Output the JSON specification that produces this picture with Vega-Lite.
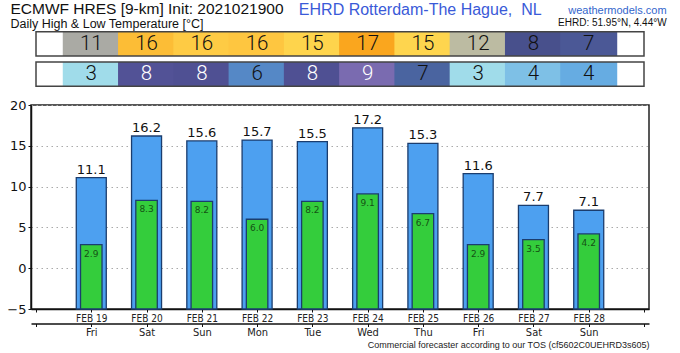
{
  "$schema": "https://vega.github.io/schema/vega-lite/v6.json",
  "width": 618,
  "height": 204,
  "padding": {"left": 31, "top": 105, "right": 31, "bottom": 44},
  "autosize": {"type": "none"},
  "background": "white",
  "config": {
    "view": {"stroke": "#222", "strokeWidth": 1.5},
    "font": "DejaVu Sans"
  },
  "datasets": {
    "days": [
      {"date": "2021-02-19", "hi": 11.1, "lo": 2.9, "hiR": 11, "loR": 3},
      {"date": "2021-02-20", "hi": 16.2, "lo": 8.3, "hiR": 16, "loR": 8},
      {"date": "2021-02-21", "hi": 15.6, "lo": 8.2, "hiR": 16, "loR": 8},
      {"date": "2021-02-22", "hi": 15.7, "lo": 6.0, "hiR": 16, "loR": 6},
      {"date": "2021-02-23", "hi": 15.5, "lo": 8.2, "hiR": 15, "loR": 8},
      {"date": "2021-02-24", "hi": 17.2, "lo": 9.1, "hiR": 17, "loR": 9},
      {"date": "2021-02-25", "hi": 15.3, "lo": 6.7, "hiR": 15, "loR": 7},
      {"date": "2021-02-26", "hi": 11.6, "lo": 2.9, "hiR": 12, "loR": 3},
      {"date": "2021-02-27", "hi": 7.7, "lo": 3.5, "hiR": 8, "loR": 4},
      {"date": "2021-02-28", "hi": 7.1, "lo": 4.2, "hiR": 7, "loR": 4}
    ]
  },
  "data": {"name": "days"},
  "layer": [
    {
      "layer": [
        {
          "mark": {"type": "bar", "width": 30, "fill": "#4da0f0", "stroke": "#1b3d6e", "strokeWidth": 1.3},
          "encoding": {
            "x": {
              "field": "date", "type": "temporal",
              "scale": {"type": "utc", "domain": [{"year": 2021, "month": 2, "date": 18, "utc": true}, {"year": 2021, "month": 3, "date": 1, "utc": true}]},
              "axis": {
                "orient": "bottom", "title": null, "grid": false,
                "tickCount": {"interval": "day", "step": 1},
                "labelExpr": "datum.index == 0 || datum.index == 1 ? '' : upper(utcFormat(datum.value, '%b %d'))",
                "labelFlush": false, "labelOverlap": false,
                "tickSize": 3, "tickColor": "#111", "labelPadding": 1,
                "labelFont": "DejaVu Sans Condensed", "labelFontSize": 10, "labelColor": "#222",
                "domainColor": "#111", "domainWidth": 1.5
              }
            },
            "y": {
              "field": "hi", "type": "quantitative",
              "scale": {"domain": [-5, 20], "nice": false, "zero": false},
              "axis": {
                "title": null, "values": [-5, 0, 5, 10, 15, 20],
                "grid": true, "gridColor": "#aaaaaa", "gridDash": [1.5, 3.5], "gridWidth": 1.2,
                "tickSize": 3, "tickColor": "#111", "labelPadding": 2,
                "labelFont": "DejaVu Sans", "labelFontSize": 13, "labelColor": "#111",
                "domainColor": "#111", "domainWidth": 1.5
              }
            },
            "y2": {"datum": -5}
          }
        },
        {
          "mark": {"type": "bar", "width": 21.5, "fill": "#34cd3c", "stroke": "#1b3d6e", "strokeWidth": 1.3},
          "encoding": {
            "x": {"field": "date", "type": "temporal", "scale": {"type": "utc", "domain": [{"year": 2021, "month": 2, "date": 18, "utc": true}, {"year": 2021, "month": 3, "date": 1, "utc": true}]}},
            "y": {"field": "lo", "type": "quantitative", "scale": {"domain": [-5, 20], "nice": false, "zero": false}},
            "y2": {"datum": -5}
          }
        },
        {
          "mark": {"type": "text", "baseline": "bottom", "dy": -1, "fontSize": 13, "font": "DejaVu Sans", "color": "#111"},
          "encoding": {
            "x": {"field": "date", "type": "temporal", "scale": {"type": "utc", "domain": [{"year": 2021, "month": 2, "date": 18, "utc": true}, {"year": 2021, "month": 3, "date": 1, "utc": true}]}},
            "y": {"field": "hi", "type": "quantitative", "scale": {"domain": [-5, 20], "nice": false, "zero": false}},
            "text": {"field": "hi", "type": "quantitative", "format": ".1f"}
          }
        },
        {
          "mark": {"type": "text", "baseline": "middle", "dy": 9, "fontSize": 9, "font": "DejaVu Sans", "color": "#145214"},
          "encoding": {
            "x": {"field": "date", "type": "temporal", "scale": {"type": "utc", "domain": [{"year": 2021, "month": 2, "date": 18, "utc": true}, {"year": 2021, "month": 3, "date": 1, "utc": true}]}},
            "y": {"field": "lo", "type": "quantitative", "scale": {"domain": [-5, 20], "nice": false, "zero": false}},
            "text": {"field": "lo", "type": "quantitative", "format": ".1f"}
          }
        },
        {
          "data": {"values": [{"t": "ECMWF HRES [9-km] Init: 2021021900"}]},
          "mark": {"type": "text", "align": "left", "baseline": "middle", "font": "Liberation Sans", "fontSize": 15.5, "color": "#111"},
          "encoding": {
            "x": {"datum": {"year": 2021, "month": 2, "date": 17, "hours": 12, "minutes": 54, "utc": true}, "type": "temporal", "scale": {"type": "utc", "domain": [{"year": 2021, "month": 2, "date": 18, "utc": true}, {"year": 2021, "month": 3, "date": 1, "utc": true}]}},
            "y": {"datum": 31.79, "type": "quantitative", "scale": {"domain": [-5, 20], "nice": false, "zero": false}},
            "text": {"field": "t"}
          }
        },
        {
          "data": {"values": [{"t": "Daily High & Low Temperature [°C]"}]},
          "mark": {"type": "text", "align": "left", "baseline": "middle", "font": "Liberation Sans", "fontSize": 12.5, "color": "#111"},
          "encoding": {
            "x": {"datum": {"year": 2021, "month": 2, "date": 17, "hours": 12, "minutes": 54, "utc": true}, "type": "temporal", "scale": {"type": "utc", "domain": [{"year": 2021, "month": 2, "date": 18, "utc": true}, {"year": 2021, "month": 3, "date": 1, "utc": true}]}},
            "y": {"datum": 29.89, "type": "quantitative", "scale": {"domain": [-5, 20], "nice": false, "zero": false}},
            "text": {"field": "t"}
          }
        },
        {
          "data": {"values": [{"t": "EHRD Rotterdam-The Hague, \u00a0NL"}]},
          "mark": {"type": "text", "align": "center", "baseline": "middle", "font": "Liberation Sans", "fontSize": 16, "color": "#3a5ad8"},
          "encoding": {
            "x": {"datum": {"year": 2021, "month": 2, "date": 24, "hours": 22, "minutes": 50, "utc": true}, "type": "temporal", "scale": {"type": "utc", "domain": [{"year": 2021, "month": 2, "date": 18, "utc": true}, {"year": 2021, "month": 3, "date": 1, "utc": true}]}},
            "y": {"datum": 31.7, "type": "quantitative", "scale": {"domain": [-5, 20], "nice": false, "zero": false}},
            "text": {"field": "t"}
          }
        },
        {
          "data": {"values": [{"t": "weathermodels.com"}]},
          "mark": {"type": "text", "align": "right", "baseline": "middle", "font": "Liberation Sans", "fontSize": 11, "color": "#3366cc"},
          "encoding": {
            "x": {"datum": {"year": 2021, "month": 3, "date": 1, "hours": 9, "minutes": 50, "utc": true}, "type": "temporal", "scale": {"type": "utc", "domain": [{"year": 2021, "month": 2, "date": 18, "utc": true}, {"year": 2021, "month": 3, "date": 1, "utc": true}]}},
            "y": {"datum": 31.58, "type": "quantitative", "scale": {"domain": [-5, 20], "nice": false, "zero": false}},
            "text": {"field": "t"}
          }
        },
        {
          "data": {"values": [{"t": "EHRD: 51.95°N, 4.44°W"}]},
          "mark": {"type": "text", "align": "right", "baseline": "middle", "font": "Liberation Sans", "fontSize": 10, "color": "#111"},
          "encoding": {
            "x": {"datum": {"year": 2021, "month": 3, "date": 1, "hours": 9, "minutes": 50, "utc": true}, "type": "temporal", "scale": {"type": "utc", "domain": [{"year": 2021, "month": 2, "date": 18, "utc": true}, {"year": 2021, "month": 3, "date": 1, "utc": true}]}},
            "y": {"datum": 29.99, "type": "quantitative", "scale": {"domain": [-5, 20], "nice": false, "zero": false}},
            "text": {"field": "t"}
          }
        }
      ]
    },
    {
      "layer": [
        {
          "mark": {"type": "tick", "thickness": 57, "size": 24.3, "opacity": 1},
          "encoding": {
            "x": {
              "field": "date", "type": "temporal",
              "scale": {"type": "utc", "domain": [{"year": 2021, "month": 2, "date": 18, "utc": true}, {"year": 2021, "month": 3, "date": 1, "utc": true}]},
              "axis": {
                "orient": "bottom", "offset": 14.5, "grid": false,
                "tickCount": {"interval": "day", "step": 1},
                "labelExpr": "datum.index == 0 || datum.index == 1 ? '' : utcFormat(datum.value, '%a')",
                "labelFlush": false, "labelOverlap": false,
                "tickSize": 3, "tickColor": "#111", "labelPadding": 0,
                "labelFont": "DejaVu Sans Condensed", "labelFontSize": 11, "labelColor": "#222",
                "domainColor": "#111", "domainWidth": 1.5,
                "title": "Commercial forecaster according to our TOS (cf5602C0UEHRD3s605)",
                "titleAnchor": "end", "titleFont": "Liberation Sans", "titleFontSize": 9,
                "titleFontWeight": "normal", "titleColor": "#222", "titlePadding": 3
              }
            },
            "y": {"datum": "high", "type": "nominal", "scale": {"type": "band", "domain": ["high", "low"], "range": [-73.3, -18.7], "paddingInner": 0.2, "paddingOuter": 0}, "axis": null},
            "color": {
              "field": "hi", "type": "quantitative", "legend": null,
              "scale": {
                "domain": [2.9, 3.5, 4.2, 6.0, 6.7, 7.1, 7.7, 8.25, 9.1, 11.1, 11.6, 15.3, 15.5, 15.6, 15.7, 16.2, 17.2],
                "range": ["#a0dcea", "#7ec0e6", "#66ace2", "#5588c6", "#4a64a0", "#4b5896", "#48508c", "#505094", "#7a6bb0", "#aaaaa4", "#bcbba2", "#fed54e", "#fed44c", "#fecb44", "#fec640", "#fcbd36", "#faa61e"],
                "interpolate": "rgb"
              }
            }
          }
        },
        {
          "mark": {"type": "tick", "thickness": 57, "size": 24.3, "opacity": 1},
          "encoding": {
            "x": {"field": "date", "type": "temporal", "scale": {"type": "utc", "domain": [{"year": 2021, "month": 2, "date": 18, "utc": true}, {"year": 2021, "month": 3, "date": 1, "utc": true}]}},
            "y": {"datum": "low", "type": "nominal", "scale": {"type": "band", "domain": ["high", "low"], "range": [-73.3, -18.7], "paddingInner": 0.2, "paddingOuter": 0}, "axis": null},
            "color": {
              "field": "lo", "type": "quantitative", "legend": null,
              "scale": {
                "domain": [2.9, 3.5, 4.2, 6.0, 6.7, 7.1, 7.7, 8.25, 9.1, 11.1, 11.6, 15.3, 15.5, 15.6, 15.7, 16.2, 17.2],
                "range": ["#a0dcea", "#7ec0e6", "#66ace2", "#5588c6", "#4a64a0", "#4b5896", "#48508c", "#505094", "#7a6bb0", "#aaaaa4", "#bcbba2", "#fed54e", "#fed44c", "#fecb44", "#fec640", "#fcbd36", "#faa61e"],
                "interpolate": "rgb"
              }
            }
          }
        },
        {
          "mark": {"type": "text", "baseline": "middle", "font": "Roboto", "fontSize": 20.5, "fontWeight": 300, "color": "#111"},
          "encoding": {
            "x": {"field": "date", "type": "temporal", "scale": {"type": "utc", "domain": [{"year": 2021, "month": 2, "date": 18, "utc": true}, {"year": 2021, "month": 3, "date": 1, "utc": true}]}},
            "y": {"datum": "high", "type": "nominal", "scale": {"type": "band", "domain": ["high", "low"], "range": [-73.3, -18.7], "paddingInner": 0.2, "paddingOuter": 0}, "axis": null},
            "text": {"field": "hiR", "type": "quantitative"}
          }
        },
        {
          "mark": {"type": "text", "baseline": "middle", "font": "Roboto", "fontSize": 20.5, "fontWeight": 300},
          "encoding": {
            "x": {"field": "date", "type": "temporal", "scale": {"type": "utc", "domain": [{"year": 2021, "month": 2, "date": 18, "utc": true}, {"year": 2021, "month": 3, "date": 1, "utc": true}]}},
            "y": {"datum": "low", "type": "nominal", "scale": {"type": "band", "domain": ["high", "low"], "range": [-73.3, -18.7], "paddingInner": 0.2, "paddingOuter": 0}, "axis": null},
            "text": {"field": "loR", "type": "quantitative"},
            "color": {"condition": {"test": "datum.lo >= 7.5", "value": "#ffffff"}, "value": "#111111"}
          }
        },
        {
          "data": {"values": [{"row": "high"}, {"row": "low"}]},
          "mark": {"type": "rect", "filled": false, "stroke": "#444", "strokeWidth": 1.5},
          "encoding": {
            "x": {"datum": {"year": 2021, "month": 2, "date": 18, "utc": true}, "type": "temporal", "scale": {"type": "utc", "domain": [{"year": 2021, "month": 2, "date": 18, "utc": true}, {"year": 2021, "month": 3, "date": 1, "utc": true}]}},
            "x2": {"datum": {"year": 2021, "month": 3, "date": 1, "utc": true}},
            "y": {"field": "row", "type": "nominal", "scale": {"type": "band", "domain": ["high", "low"], "range": [-73.3, -18.7], "paddingInner": 0.2, "paddingOuter": 0}, "axis": null}
          }
        }
      ]
    }
  ],
  "resolve": {"scale": {"y": "independent"}, "axis": {"x": "independent", "y": "independent"}}
}
